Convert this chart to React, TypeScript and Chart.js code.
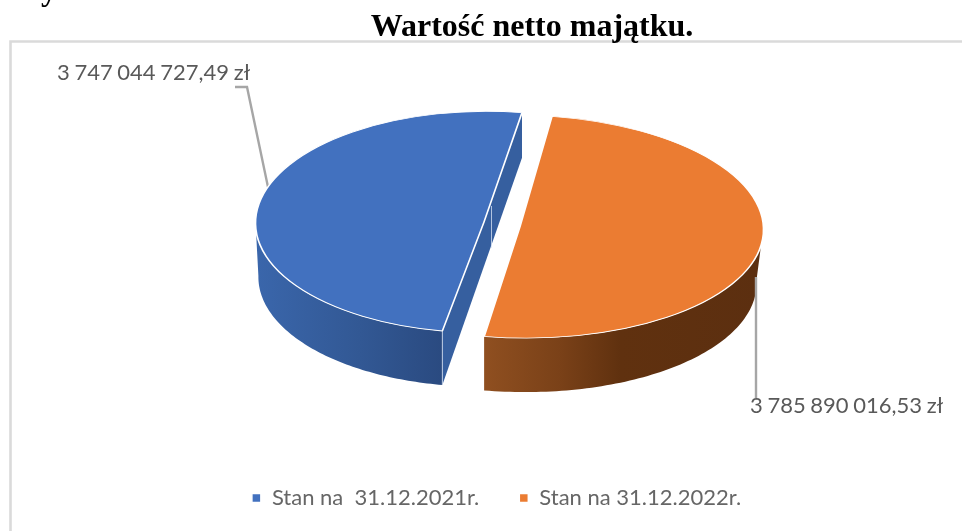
import React, { useEffect, useRef } from "react";
import { Chart, registerables } from "chart.js";

Chart.register(...registerables);

const categories = ["Stan na  31.12.2021r.", "Stan na 31.12.2022r."];
const values = [3747044727.49, 3785890016.53];
const valueLabels = ["3 747 044 727,49 zł", "3 785 890 016,53 zł"];
const colors = ["#4271BF", "#EB7C32"];
const chartTitle = "Wartość netto majątku.";
const cutOffHeading = "y";

const DEG = Math.PI / 180;
// Per-slice projection of the flat pie onto the page (3D look).
const looks = [
  {
    cx: 484, cy: 222, rx: 228.5, ry: 110.7, shear: -2,
    depth: 54, shrink: 3.5,
    wallFrom: 100, wallTo: 180, alignAt: 100,
    gradient: [[257, "#3A66AB"], [360, "#325894"], [443, "#2A4A80"]],
    label: { x: 57, y: 80 },
    leader: [[235, 87], [247, 87], [268, 187]],
  },
  {
    cx: 520, cy: 226.5, rx: 243.5, ry: 111.6, shear: 6.5,
    depth: 54, shrink: 6,
    wallFrom: 360, wallTo: 460, alignAt: 460,
    gradient: [[485, "#8F4F20"], [560, "#7A4118"], [620, "#60310F"], [763, "#5C2F10"]],
    label: { x: 750, y: 413 },
    leader: [[756, 277], [756, 398]],
  },
];

const pie3d = {
  id: "pie3d",
  beforeDraw(chart: any) {
    const { ctx, width, height } = chart;
    ctx.save();
    ctx.fillStyle = "#ffffff";
    ctx.fillRect(0, 0, width, height);
    ctx.strokeStyle = "#DADADA";
    ctx.lineWidth = 2.6;
    ctx.beginPath();
    ctx.moveTo(10.5, height);
    ctx.lineTo(10.5, 41.5);
    ctx.lineTo(width, 41.5);
    ctx.stroke();
    ctx.fillStyle = "#000000";
    ctx.font = "bold 32px 'Liberation Serif'";
    ctx.fillText(cutOffHeading, 41, -8);
    ctx.restore();
  },
  afterLayout(chart: any) {
    const t = chart.titleBlock;
    if (t) {
      const half = (t.right - t.left) / 2;
      t.left = 532 - half;
      t.right = 532 + half;
    }
  },
  beforeDatasetDraw(chart: any, args: any) {
    const { ctx } = chart;
    const meta = args.meta;
    drawLeader(ctx, looks[0].leader);
    meta.data.forEach((el: any, i: number) => {
      const lk = looks[i];
      const top = (t: number) => ({
        x: lk.cx + lk.rx * Math.cos(t) + lk.shear * Math.sin(t),
        y: lk.cy + lk.ry * Math.sin(t),
      });
      const rxB = lk.rx - lk.shrink;
      const al = lk.alignAt * DEG;
      const bcx = top(al).x - (rxB * Math.cos(al) + lk.shear * Math.sin(al));
      const bottom = (t: number) => ({
        x: bcx + rxB * Math.cos(t) + lk.shear * Math.sin(t),
        y: lk.cy + lk.depth + lk.ry * Math.sin(t),
      });
      // outer wall
      const x0 = lk.gradient[0][0] as number;
      const x1 = lk.gradient[lk.gradient.length - 1][0] as number;
      const g = ctx.createLinearGradient(x0, 0, x1, 0);
      lk.gradient.forEach(([x, c]: any) => g.addColorStop((x - x0) / (x1 - x0), c));
      ctx.save();
      ctx.fillStyle = g;
      ctx.beginPath();
      const a = lk.wallFrom * DEG;
      const b = lk.wallTo * DEG;
      const steps = 80;
      for (let s = 0; s <= steps; s++) {
        const p = top(a + ((b - a) * s) / steps);
        if (s === 0) ctx.moveTo(p.x, p.y);
        else ctx.lineTo(p.x, p.y);
      }
      for (let s = steps; s >= 0; s--) {
        const p = bottom(a + ((b - a) * s) / steps);
        ctx.lineTo(p.x, p.y);
      }
      ctx.closePath();
      ctx.fill();
      ctx.restore();

      // cut face of the first slice
      if (i === 0) {
        const t1 = top(el.endAngle);
        const t0 = top(el.startAngle);
        const b0 = bottom(el.startAngle);
        ctx.save();
        ctx.fillStyle = "#365F9F";
        ctx.beginPath();
        ctx.moveTo(t1.x, t1.y);
        ctx.lineTo(t1.x, t1.y + 45);
        ctx.lineTo(b0.x, b0.y);
        ctx.lineTo(t0.x, t0.y);
        ctx.closePath();
        ctx.fill();
        ctx.strokeStyle = "rgba(220,230,245,0.75)";
        ctx.lineWidth = 1;
        ctx.beginPath();
        ctx.moveTo(491.5, 206);
        ctx.lineTo(491.5, 248);
        ctx.moveTo(t0.x, t0.y);
        ctx.lineTo(b0.x, b0.y);
        ctx.stroke();
        ctx.restore();
      }

      // top face: the library's arc element, projected
      const R = el.outerRadius;
      ctx.save();
      ctx.transform(
        lk.rx / R, 0, lk.shear / R, lk.ry / R,
        lk.cx - (el.x * lk.rx) / R - (el.y * lk.shear) / R,
        lk.cy - (el.y * lk.ry) / R
      );
      el.draw(ctx, chart.chartArea);
      ctx.restore();
    });
    drawLeader(ctx, looks[1].leader);
    ctx.save();
    ctx.fillStyle = "#595959";
    ctx.font = "22px Lato";
    (ctx as any).wordSpacing = "-1px";
    ctx.textBaseline = "alphabetic";
    valueLabels.forEach((txt, i) => {
      ctx.fillText(txt, looks[i].label.x, looks[i].label.y);
    });
    ctx.restore();
    return false;
  },
};

function drawLeader(ctx: any, pts: number[][]) {
  ctx.save();
  ctx.strokeStyle = "#A6A6A6";
  ctx.lineWidth = 2.4;
  ctx.beginPath();
  pts.forEach((p, i) => (i === 0 ? ctx.moveTo(p[0], p[1]) : ctx.lineTo(p[0], p[1])));
  ctx.stroke();
  ctx.restore();
}

export default function App() {
  const ref = useRef<HTMLCanvasElement>(null);
  useEffect(() => {
    document.body.style.margin = "0";
    const chart = new Chart(ref.current as HTMLCanvasElement, {
      type: "pie",
      data: {
        labels: categories,
        datasets: [
          {
            data: values,
            backgroundColor: colors,
            borderColor: "#ffffff",
            borderWidth: 1.5,
          },
        ],
      },
      options: {
        responsive: false,
        animation: false,
        rotation: 190,
        radius: 200,
        layout: { padding: { left: 31, bottom: 12 } },
        plugins: {
          tooltip: { enabled: false },
          title: {
            display: true,
            text: chartTitle,
            color: "#000000",
            font: { family: "'Liberation Serif'", size: 32, weight: "bold" },
            padding: { top: 9, bottom: 8 },
          },
          legend: {
            position: "bottom",
            labels: {
              boxWidth: 9,
              boxHeight: 9,
              padding: 40,
              color: "#666666",
              font: { family: "Lato", size: 22 },
            },
          },
        },
      },
      plugins: [pie3d],
    } as any);
    return () => chart.destroy();
  }, []);
  return <canvas ref={ref} width={962} height={531} style={{ display: "block" }} />;
}
